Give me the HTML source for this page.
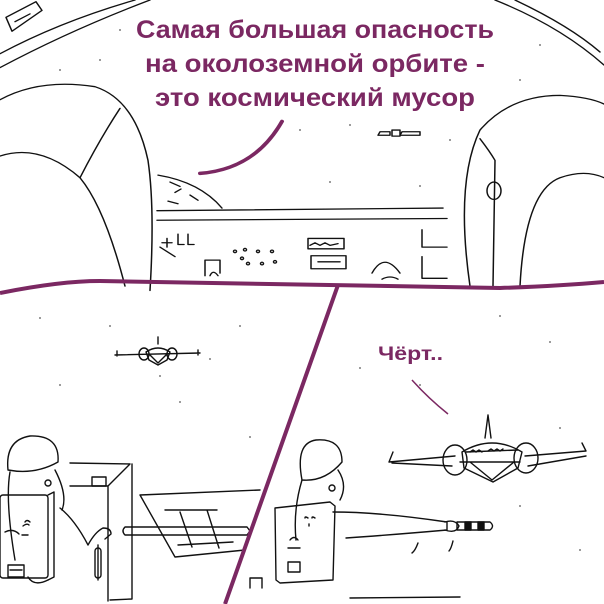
<!DOCTYPE html>
<html><head><meta charset="utf-8"><style>
html,body{margin:0;padding:0;background:#fff;}
svg{display:block;}
.t{font-family:"Liberation Sans","DejaVu Sans",sans-serif;font-weight:bold;fill:#7b2862;}
</style></head><body>
<svg width="604" height="604" viewBox="0 0 604 604" xmlns="http://www.w3.org/2000/svg">
<g transform="scale(1,0.867)">
<g fill="none" stroke="#111" stroke-width="1.5" stroke-linecap="round" stroke-linejoin="round">
<path d="M0,62 Q60,25 135,0"/><path d="M0,78 Q70,35 150,0"/>
<path d="M6,20 L36,2 L42,12 L12,36 Z"/><path d="M15,25 L30,16"/>
<path d="M495,0 Q560,30 604,75"/><path d="M515,0 Q570,30 600,60"/>
<path d="M0,115 Q40,90 95,100 Q135,115 148,185 Q155,240 150,335"/>
<path d="M0,180 Q40,165 80,205 Q105,240 125,330"/>
<path d="M80,205 Q100,160 120,125"/>
<path d="M470,330 Q455,210 480,150 Q510,110 560,110 Q590,112 604,120"/>
<path d="M520,330 Q525,220 560,205 Q585,195 604,205"/>
<path d="M480,160 Q490,175 495,185 L493,330"/>
<ellipse cx="494" cy="220" rx="7" ry="10"/>
<path d="M158,202 Q200,210 222,240"/>
<path d="M170,210 l10,5 M175,222 l6,-4 M168,232 l10,3 M190,225 l8,6"/>
<path d="M157,243 L443,240"/><path d="M157,254 L447,252"/>
<path d="M160,285 L175,296"/>
<path d="M162,280 h10 M167,275 v10 M178,270 v12 h6 M188,270 v12 h6"/>
<path d="M205,318 v-18 h15 v15"/><path d="M210,318 q3,-8 8,0"/>
<circle cx="235" cy="290" r="1.5"/><circle cx="245" cy="288" r="1.5"/><circle cx="258" cy="290" r="1.5"/><circle cx="272" cy="290" r="1.5"/>
<circle cx="242" cy="298" r="1.5"/><circle cx="248" cy="304" r="1.5"/><circle cx="262" cy="304" r="1.5"/><circle cx="275" cy="302" r="1.5"/>
<path d="M308,275 h36 v12 h-36 z M310,283 l5,-3 5,3 5,-3 5,3 8,-2"/>
<path d="M311,295 h35 v15 h-35 z M318,302 h22"/>
<path d="M372,315 q12,-25 28,0"/><path d="M382,322 q8,-5 16,0"/>
<path d="M422,265 v20 h25 M422,296 v25 h25"/>
<path d="M380,152 h10 v4 h-12 z M392,150 h8 v7 h-8 z M402,152 h18 v4 h-20 z"/>
</g>
<path d="M282,140 Q255,195 200,200" fill="none" stroke="#7b2862" stroke-width="4" stroke-linecap="round"/>
</g>
<g fill="#555">
<circle cx="120" cy="30" r=".9"/><circle cx="60" cy="70" r=".9"/><circle cx="100" cy="60" r=".9"/><circle cx="300" cy="130" r=".9"/><circle cx="350" cy="125" r=".9"/><circle cx="450" cy="140" r=".9"/><circle cx="520" cy="80" r=".9"/><circle cx="540" cy="45" r=".9"/><circle cx="330" cy="182" r=".9"/><circle cx="420" cy="186" r=".9"/>
<circle cx="40" cy="318" r=".9"/><circle cx="110" cy="326" r=".9"/><circle cx="240" cy="326" r=".9"/><circle cx="60" cy="385" r=".9"/><circle cx="180" cy="402" r=".9"/><circle cx="250" cy="437" r=".9"/><circle cx="160" cy="376" r=".9"/><circle cx="210" cy="359" r=".9"/>
<circle cx="360" cy="368" r=".9"/><circle cx="420" cy="385" r=".9"/><circle cx="550" cy="342" r=".9"/><circle cx="500" cy="316" r=".9"/><circle cx="560" cy="428" r=".9"/><circle cx="520" cy="506" r=".9"/><circle cx="580" cy="550" r=".9"/><circle cx="470" cy="524" r=".9"/>
</g>
<g fill="none" stroke="#111" stroke-width="1.4" stroke-linecap="round" stroke-linejoin="round">
<path d="M115,355 L200,353 M117,351 v5 M198,350 v5"/>
<path d="M146,352 q12,-8 24,0 l-3,8 -9,5 -9,-5 z"/>
<path d="M158,344 v-7"/><ellipse cx="144" cy="354" rx="5" ry="6"/><ellipse cx="172" cy="354" rx="5" ry="6"/>
<path d="M150,355 l8,8 8,-8"/>
<path d="M389,462 L455,456 M389,462 l4,-10 M392,463 L452,466"/>
<path d="M525,456 L586,451 M586,451 l-4,-8 M528,466 L586,456"/>
<path d="M462,452 q30,-18 60,0 l-4,16 -25,14 -29,-14 z"/>
<path d="M491,438 l-3,-23 -3,23"/><ellipse cx="455" cy="460" rx="12" ry="15"/><ellipse cx="526" cy="458" rx="12" ry="15"/>
<path d="M460,462 h60 M466,452 l52,-2 M470,462 l22,18 22,-18"/>
<path d="M470,452 l3,-2 3,2 3,-2 3,2 M488,451 l3,-2 3,2 3,-2 3,2 3,-2"/>
<path d="M58,462 Q60,435 30,436 Q5,440 8,470 Q35,475 58,462 Z"/>
<path d="M10,472 Q5,500 15,560 M55,470 Q68,495 62,510"/>
<circle cx="48" cy="483" r="3"/>
<rect x="0" y="495" width="48" height="83" rx="3"/>
<path d="M48,495 l6,-3 v85 l-6,3"/>
<path d="M60,508 Q75,520 88,545 Q95,532 103,528 q8,0 8,6 l-6,5"/>
<path d="M70,463 L130,464 L108,486 M70,486 h38 v115 M132,464 v135 L110,600"/>
<rect x="92" y="477" width="14" height="9"/>
<path d="M125,527 h122 l3,4 -3,4 h-122 q-4,-4 0,-8 z"/>
<path d="M140,495 L260,490 M140,495 L175,557 L245,550 M165,510 h52 M180,512 l12,35 M207,510 l12,38 M178,545 l55,-3"/>
<path d="M98,545 v35"/><rect x="95" y="548" width="6" height="30" rx="3"/>
<path d="M25,522 q2,-3 5,0 M23,526 q4,-3 6,-1 M5,532 q8,-4 14,2 M22,535 h6 M8,565 h16 v12 h-16 z M10,570 h12"/>
<path d="M28,577 q6,10 20,3"/>
<path d="M342,462 Q342,438 316,440 Q295,443 302,480 Q325,482 342,462 Z"/>
<path d="M302,480 Q293,510 296,540 M338,470 Q348,485 340,500"/><circle cx="332" cy="488" r="3"/>
<path d="M275,508 L330,502 L335,506 L333,580 L280,583 L276,580 Z"/>
<path d="M333,512 Q380,512 447,522 L447,530 Q390,535 346,538"/>
<path d="M445,522 q10,-3 14,4 q-3,8 -14,4"/>
<path d="M457,522 h33 q5,4 0,8 h-33 z"/>
<rect x="465" y="522" width="6" height="8" fill="#111"/><rect x="478" y="522" width="6" height="8" fill="#111"/>
<path d="M305,518 q0,-2 3,0 M312,518 q0,-2 3,0 M309,524 v2"/>
<path d="M290,540 q4,-5 8,0 M288,548 h12 M288,562 h12 v10 h-12 z"/>
<path d="M418,543 q-3,8 -6,10 M453,541 q-2,8 -4,10"/>
<path d="M350,598 L460,597"/>
<path d="M250,588 v-10 h12 v10"/>
</g>
<path d="M412,380 Q428,398 448,414" fill="none" stroke="#7b2862" stroke-width="1.5"/>
<path d="M0,293 Q60,281 100,281 Q300,284 500,288 Q560,286 604,282" fill="none" stroke="#7b2862" stroke-width="4"/>
<path d="M338,285 L225,604" fill="none" stroke="#7b2862" stroke-width="4"/>
<text class="t" x="315" y="38" font-size="25" text-anchor="middle" textLength="358" lengthAdjust="spacingAndGlyphs">Самая большая опасность</text>
<text class="t" x="315" y="72" font-size="25" text-anchor="middle" textLength="340" lengthAdjust="spacingAndGlyphs">на околоземной орбите -</text>
<text class="t" x="315" y="106" font-size="25" text-anchor="middle" textLength="320" lengthAdjust="spacingAndGlyphs">это космический мусор</text>
<text class="t" x="378" y="360" font-size="19" textLength="65" lengthAdjust="spacingAndGlyphs">Чёрт..</text>
</svg>
</body></html>
